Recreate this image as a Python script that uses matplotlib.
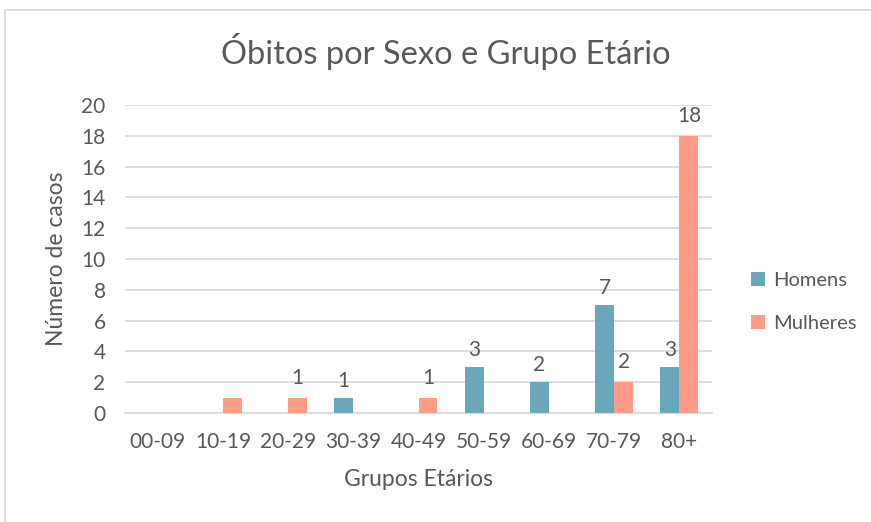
import matplotlib
matplotlib.use("Agg")
import matplotlib.pyplot as plt
from matplotlib.patches import Rectangle
import numpy as np

categories = ["00-09", "10-19", "20-29", "30-39", "40-49", "50-59", "60-69", "70-79", "80+"]
homens = [0, 0, 0, 1, 0, 3, 2, 7, 3]
mulheres = [0, 1, 1, 0, 1, 0, 0, 2, 18]
label_homens = [False, False, False, True, False, True, True, True, True]
label_mulheres = [False, False, True, False, True, False, False, True, True]
yticks = list(range(0, 21, 2))

plt.rcParams['font.family'] = ['Lato', 'DejaVu Sans']
TXT = "#595959"
C_H = "#6BA7BB"
C_M = "#FF9B86"

fig = plt.figure(figsize=(8.71, 5.22), dpi=100)
fig.patches.append(Rectangle((5/871, -0.1), 1.2, 1 - 10/522 + 0.1, transform=fig.transFigure,
                             fill=False, edgecolor="#D9D9D9", linewidth=1.2))

ax = fig.add_axes([125/871, 1 - 413/522, (712 - 125)/871, (413 - 105)/522])
x = np.arange(len(categories))
w = 0.29
bh = ax.bar(x - w/2, homens, w, color=C_H, label="Homens", zorder=3)
bm = ax.bar(x + w/2, mulheres, w, color=C_M, label="Mulheres", zorder=3)

for xi, v, s in zip(x, homens, label_homens):
    if s:
        ax.annotate(str(v), (xi - w/2, v), xytext=(0, 5), textcoords="offset points",
                    ha="center", va="bottom", fontsize=15, color=TXT)
for xi, v, s in zip(x, mulheres, label_mulheres):
    if s:
        ax.annotate(str(v), (xi + w/2, v), xytext=(0, 7), textcoords="offset points",
                    ha="center", va="bottom", fontsize=15, color=TXT)

ax.set_xlim(-0.5, len(categories) - 0.5)
ax.set_ylim(0, 20)
ax.set_yticks(yticks)
ax.set_xticks(x)
ax.set_xticklabels(categories)
ax.yaxis.grid(True, color="#D9D9D9", linewidth=1.2, zorder=0)
ax.set_axisbelow(True)
for sp in ["top", "right", "left"]:
    ax.spines[sp].set_visible(False)
ax.spines["bottom"].set_color("#D9D9D9")
ax.spines["bottom"].set_linewidth(1.2)
ax.tick_params(axis="both", length=0, labelsize=15, colors=TXT)
ax.tick_params(axis="x", pad=14)
ax.tick_params(axis="y", pad=14)

fig.text(446/871, 1 - 52/522, "Óbitos por Sexo e Grupo Etário", fontsize=23.5, color=TXT,
         ha="center", va="center")
ax.set_xlabel("Grupos Etários", fontsize=16.5, color=TXT, labelpad=12)
ax.set_ylabel("Número de casos", fontsize=16.5, color=TXT, labelpad=10)

fig.legend(handles=[bh, bm], labels=["Homens", "Mulheres"], loc="center left",
           bbox_to_anchor=(751/871, 1 - 302/522), frameon=False, fontsize=14.5,
           labelcolor=TXT, handlelength=0.7, handleheight=0.7, labelspacing=1.3,
           handletextpad=0.4, borderaxespad=0, borderpad=0)

fig.savefig("out.png", dpi=100)
